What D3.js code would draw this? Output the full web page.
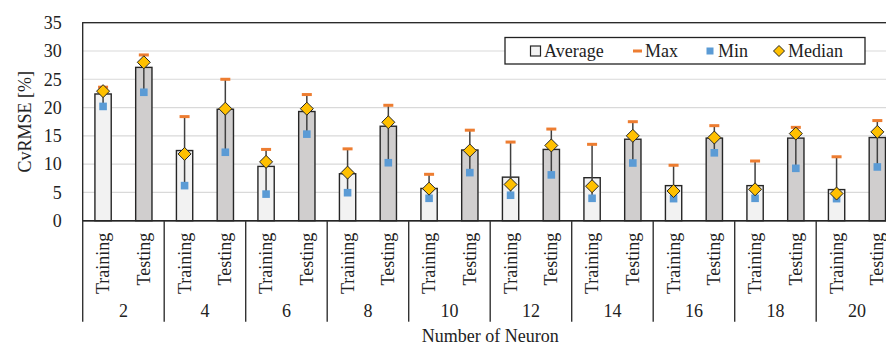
<!DOCTYPE html>
<html>
<head>
<meta charset="utf-8">
<script src="https://cdn.jsdelivr.net/npm/d3@7"></script>
<style>
  body { margin: 0; background: #fff; }
  svg text { font-family: "Liberation Serif", "DejaVu Serif", serif; }
</style>
</head>
<body>
<div id="chart"></div>
<script>
// data
let neurons = ["2", "4", "6", "8", "10", "12", "14", "16", "18", "20"];
let sets = ["Training", "Testing"];
// values per neuron count, [training, testing]
let average = [[22.4, 27.1], [12.4, 19.7], [9.6, 19.3], [8.3, 16.7], [5.7, 12.5], [7.7, 12.6], [7.6, 14.4], [6.2, 14.6], [6.2, 14.6], [5.5, 14.7]];
let maxVals = [[23.6, 29.3], [18.4, 25.0], [12.6, 22.3], [12.7, 20.4], [8.2, 16.0], [13.9, 16.2], [13.5, 17.5], [9.8, 16.8], [10.55, 16.5], [11.3, 17.7]];
let minVals = [[20.2, 22.7], [6.2, 12.1], [4.7, 15.3], [4.95, 10.25], [3.96, 8.5], [4.5, 8.1], [3.96, 10.2], [3.9, 12.0], [3.96, 9.26], [3.9, 9.5]];
let medianVals = [[22.9, 28.0], [11.8, 19.8], [10.4, 19.8], [8.5, 17.4], [5.66, 12.4], [6.4, 13.3], [6.1, 15.0], [5.25, 14.7], [5.55, 15.4], [4.8, 15.7]];
let yTicks = [0, 5, 10, 15, 20, 25, 30, 35];

let svgWidth = 886, svgHeight = 345;
let margin = { top: 22.7, left: 82.7 };
let width = 815, height = 198;
let font = "Liberation Serif, DejaVu Serif, serif";

let svg = d3.select("#chart").append("svg")
  .attr("width", svgWidth)
  .attr("height", svgHeight)
  .attr("font-family", font);

let g = svg.append("g").attr("transform", `translate(${margin.left},${margin.top})`);

// flatten into rows
let rows = [];
neurons.forEach((n, i) => {
  sets.forEach((s, j) => {
    rows.push({ key: n + "_" + s, neuron: n, set: s, avg: average[i][j], max: maxVals[i][j], min: minVals[i][j], med: medianVals[i][j] });
  });
});

let x0 = d3.scaleBand().domain(neurons).range([0, width]);
let x = d3.scaleBand().domain(rows.map(d => d.key)).range([0, width])
  .paddingInner(0.6).paddingOuter(0.3);
let y = d3.scaleLinear().domain([0, 35]).range([height, 0]);

// gridlines
g.selectAll(".grid").data(yTicks.slice(1, -1)).enter().append("line")
  .attr("x1", 0).attr("x2", width)
  .attr("y1", d => y(d)).attr("y2", d => y(d))
  .attr("stroke", "#d9d9d9").attr("stroke-width", 1.2);

// plot border
g.append("rect").attr("x", 0).attr("y", 0).attr("width", width).attr("height", height)
  .attr("fill", "none").attr("stroke", "#222").attr("stroke-width", 1.3);

// y axis labels
g.selectAll(".ylab").data(yTicks).enter().append("text")
  .attr("x", -21).attr("y", d => y(d)).attr("dy", "0.35em")
  .attr("text-anchor", "end").attr("font-size", 18).attr("fill", "#222")
  .text(d => d);

svg.append("text")
  .attr("transform", `translate(31,${margin.top + height / 2}) rotate(-90)`)
  .attr("text-anchor", "middle").attr("font-size", 18).attr("fill", "#222")
  .text("CvRMSE [%]");

// bars
g.selectAll(".bar").data(rows).enter().append("rect")
  .attr("x", d => x(d.key)).attr("width", x.bandwidth())
  .attr("y", d => y(d.avg)).attr("height", d => height - y(d.avg))
  .attr("fill", d => d.set === "Training" ? "#f2f2f2" : "#d0cece")
  .attr("stroke", "#262626").attr("stroke-width", 1.4);

let cx = d => x(d.key) + x.bandwidth() / 2;

// min-max line
g.selectAll(".rng").data(rows).enter().append("line")
  .attr("x1", cx).attr("x2", cx)
  .attr("y1", d => y(d.min)).attr("y2", d => y(d.max))
  .attr("stroke", "#404040").attr("stroke-width", 1.5);

// max dash
g.selectAll(".mx").data(rows).enter().append("rect")
  .attr("x", d => cx(d) - 5).attr("y", d => y(d.max) - 1.5)
  .attr("width", 10).attr("height", 3)
  .attr("fill", "#ed7d31");

// min square
g.selectAll(".mn").data(rows).enter().append("rect")
  .attr("x", d => cx(d) - 3.8).attr("y", d => y(d.min) - 3.8)
  .attr("width", 7.6).attr("height", 7.6)
  .attr("fill", "#5b9bd5");

// median diamond
let diamond = "M0,-6.5L6.5,0L0,6.5L-6.5,0Z";
g.selectAll(".md").data(rows).enter().append("path")
  .attr("transform", d => `translate(${cx(d)},${y(d.med)})`)
  .attr("d", diamond)
  .attr("fill", "#ffc000").attr("stroke", "#262626").attr("stroke-width", 1);

// x axis line
g.append("line").attr("x1", 0).attr("x2", width).attr("y1", height).attr("y2", height)
  .attr("stroke", "#262626").attr("stroke-width", 1.6);

// group separators
g.selectAll(".sep").data(d3.range(neurons.length + 1)).enter().append("line")
  .attr("x1", i => i * x0.step()).attr("x2", i => i * x0.step())
  .attr("y1", height).attr("y2", height + 101)
  .attr("stroke", "#333").attr("stroke-width", 1.4);

// category labels
g.selectAll(".cat").data(rows).enter().append("text")
  .attr("transform", d => `translate(${cx(d) + 6},${height + 12}) rotate(-90)`)
  .attr("text-anchor", "end").attr("font-size", 18).attr("fill", "#222")
  .text(d => d.set);

// neuron labels
g.selectAll(".grp").data(neurons).enter().append("text")
  .attr("x", d => x0(d) + x0.bandwidth() / 2).attr("y", height + 96)
  .attr("text-anchor", "middle").attr("font-size", 18).attr("fill", "#222")
  .text(d => d);

svg.append("text")
  .attr("x", margin.left + width / 2).attr("y", 342)
  .attr("text-anchor", "middle").attr("font-size", 18).attr("fill", "#222")
  .text("Number of Neuron");

// legend
let lg = svg.append("g");
lg.append("rect").attr("x", 505).attr("y", 37.5).attr("width", 360).attr("height", 26.5)
  .attr("fill", "#fff").attr("stroke", "#222").attr("stroke-width", 1.3);
let ly = 51;
lg.append("rect").attr("x", 530.5).attr("y", ly - 5).attr("width", 10).attr("height", 10)
  .attr("fill", "#f2f2f2").attr("stroke", "#262626").attr("stroke-width", 1.2);
lg.append("text").attr("x", 544).attr("y", ly).attr("dy", "0.35em").attr("font-size", 18).attr("fill", "#222").text("Average");
lg.append("rect").attr("x", 633).attr("y", ly - 1.5).attr("width", 9).attr("height", 3).attr("fill", "#ed7d31");
lg.append("text").attr("x", 645).attr("y", ly).attr("dy", "0.35em").attr("font-size", 18).attr("fill", "#222").text("Max");
lg.append("rect").attr("x", 706.5).attr("y", ly - 3.5).attr("width", 7).attr("height", 7).attr("fill", "#5b9bd5");
lg.append("text").attr("x", 718).attr("y", ly).attr("dy", "0.35em").attr("font-size", 18).attr("fill", "#222").text("Min");
lg.append("path").attr("transform", `translate(779,${ly})`).attr("d", "M0,-5.5L5.5,0L0,5.5L-5.5,0Z")
  .attr("fill", "#ffc000").attr("stroke", "#262626").attr("stroke-width", 1);
lg.append("text").attr("x", 788).attr("y", ly).attr("dy", "0.35em").attr("font-size", 18).attr("fill", "#222").text("Median");
</script>
</body>
</html>
